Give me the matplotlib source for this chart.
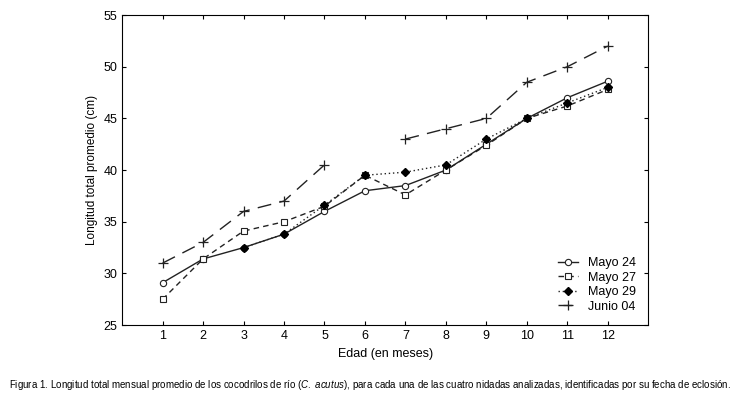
import numpy as np
import matplotlib.pyplot as plt

meses = [1, 2, 3, 4, 5, 6, 7, 8, 9, 10, 11, 12]
mayo24 = [29.1, 31.4, 32.5, 33.8, 36.0, 38.0, 38.5, 40.0, 42.5, 45.0, 47.0, 48.6]
mayo27 = [27.5, 31.4, 34.1, 35.0, 36.5, 39.5, 37.6, 40.0, 42.4, 45.0, 46.2, 47.8]
mayo29 = [np.nan, np.nan, 32.5, 33.8, 36.6, 39.5, 39.8, 40.5, 43.0, 45.0, 46.5, 48.0]
junio04 = [31.0, 33.0, 36.0, 37.0, 40.5, np.nan, 43.0, 44.0, 45.0, 48.5, 50.0, 52.0]

plt.rcParams['font.family'] = ['Liberation Sans', 'DejaVu Sans']
plt.rcParams['mathtext.fontset'] = 'custom'
plt.rcParams['mathtext.rm'] = 'Liberation Sans'
plt.rcParams['mathtext.it'] = 'Liberation Sans:italic'

fig = plt.figure(figsize=(7.4, 3.96), dpi=100)
ax = fig.add_axes([0.165, 0.179, 0.711, 0.783])

c = '#222222'
ax.plot(meses, mayo24, color=c, lw=1, ls='-', marker='o', ms=4.5,
        mfc='white', mec=c, mew=0.8, label='Mayo 24')
ax.plot(meses, mayo27, color=c, lw=1, ls=(0, (4, 3)), marker='s', ms=5,
        mfc='white', mec=c, mew=0.8, label='Mayo 27')
ax.plot(meses, mayo29, color=c, lw=1, ls=(0, (1, 2)), marker='D', ms=4,
        mfc='black', mec='black', label='Mayo 29')
ax.plot(meses, junio04, color=c, lw=1, ls=(0, (10, 6)), marker='+', ms=7,
        mew=0.9, label='Junio 04')

ax.set_xlim(0, 13)
ax.set_ylim(25, 55)
ax.set_xticks(meses)
ax.set_yticks([25, 30, 35, 40, 45, 50, 55])
ax.tick_params(direction='in', length=3, top=True, right=True, labelsize=9)
ax.set_xlabel('Edad (en meses)', fontsize=9)
ax.set_ylabel('Longitud total promedio (cm)', fontsize=8.5)

ax.legend(loc='lower right', frameon=False, fontsize=9, handlelength=1.6,
          labelspacing=0.2, borderaxespad=0.6)

caption = ('Figura 1. Longitud total mensual promedio de los cocodrilos de río '
           '($\\it{C.\\ acutus}$), para cada una de las cuatro nidadas analizadas, '
           'identificadas por su fecha de eclosión.')
fig.text(0.5, 0.02, caption, ha='center', fontsize=7.05)

fig.savefig('out.png', dpi=100)
